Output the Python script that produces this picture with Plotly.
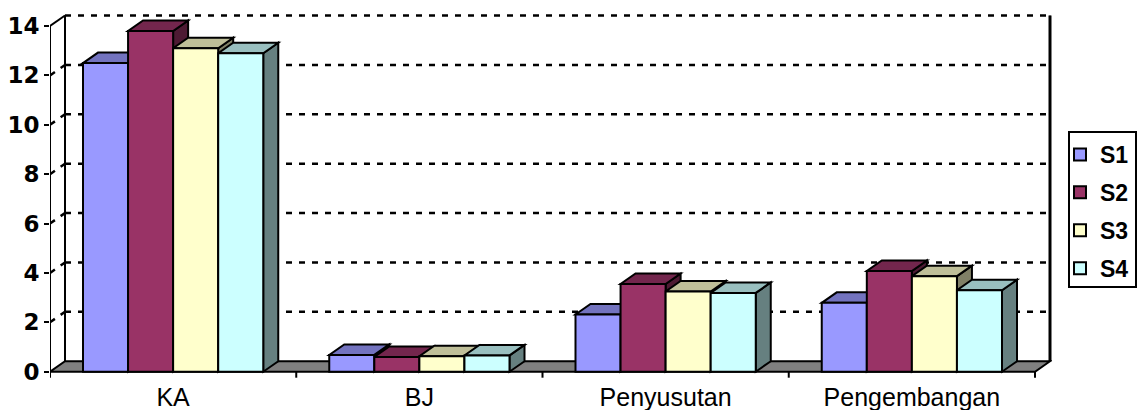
import plotly.graph_objects as go

# ---- data -------------------------------------------------------------
categories = ["KA", "BJ", "Penyusutan", "Pengembangan"]
series_names = ["S1", "S2", "S3", "S4"]
s1 = [12.5, 0.68, 2.32, 2.79]
s2 = [13.8, 0.60, 3.55, 4.08]
s3 = [13.1, 0.63, 3.25, 3.87]
s4 = [12.9, 0.66, 3.19, 3.30]
y_ticks = [0, 2, 4, 6, 8, 10, 12, 14]

series_values = [s1, s2, s3, s4]

# ---- styling ----------------------------------------------------------
front_colors = ["#9999FF", "#993366", "#FFFFCC", "#CCFFFF"]
top_colors = ["#7373BF", "#73264D", "#BFBF99", "#99BFBF"]
side_colors = ["#4D4D80", "#4D1A33", "#808066", "#668080"]

W, H = 1137, 410
M_L, M_R, M_T, M_B = 50, 85, 12, 30
plot_w = W - M_L - M_R
plot_h = H - M_T - M_B

# axis scales (pixels per data unit) and where value 0 sits
px_per_x = 246.25
px_per_y = 24.69
zero_px = 371.7

n_cat = len(categories)
n_ser = len(series_values)
x_lo = -0.5
x_hi = x_lo + plot_w / px_per_x
y_lo = -((M_T + plot_h) - zero_px) / px_per_y
y_hi = y_lo + plot_h / px_per_y
y_top = y_ticks[-1]

# oblique depth of the pseudo-3D boxes, in data units
DX = 15 / px_per_x
DY = 10.5 / px_per_y

BARGAP = 0.268
bar_w = (1 - BARGAP) / n_ser

LINE = dict(color="black", width=2)
DASH = dict(color="black", width=2.5, dash="6px,7px")

shapes = []


def seg(x0, y0, x1, y1, line, layer="below"):
    shapes.append(dict(type="line", xref="x", yref="y", x0=x0, y0=y0,
                       x1=x1, y1=y1, line=line, layer=layer))


def poly(pts, fill, layer="below"):
    d = "M " + " L ".join(f"{px:.5f},{py:.5f}" for px, py in pts) + " Z"
    shapes.append(dict(type="path", xref="x", yref="y", path=d,
                       fillcolor=fill, line=LINE, layer=layer))


x_front_l = x_lo
x_front_r = x_lo + n_cat

# back-wall gridlines
for v in y_ticks[1:]:
    seg(x_front_l + DX, v + DY, x_front_r + DX, v + DY, DASH)
# side-wall gridlines
for v in y_ticks[1:-1]:
    seg(x_front_l, v, x_front_l + DX, v + DY, DASH)
seg(x_front_l, y_top, x_front_l + DX, y_top + DY, LINE)

# back-wall vertical edges
seg(x_front_l + DX, DY, x_front_l + DX, y_top + DY, LINE)
seg(x_front_r + DX, DY, x_front_r + DX, y_top + DY,
    dict(color="#808080", width=4))
seg(x_front_r + DX, DY, x_front_r + DX, y_top + DY, LINE)

# floor
poly([(x_front_l, 0), (x_front_r, 0), (x_front_r + DX, DY),
      (x_front_l + DX, DY)], "#808080")

# value axis line
seg(x_front_l, 0, x_front_l, y_top, LINE)
# category boundary ticks
for k in range(n_cat + 1):
    seg(x_front_l + k, 0, x_front_l + k, -6 / px_per_y, LINE)

# top and side faces of each column, left to right
for i in range(n_cat):
    for j in range(n_ser):
        v = series_values[j][i]
        xa = i - (1 - BARGAP) / 2 + j * bar_w
        xb = xa + bar_w
        poly([(xb, 0), (xb, v), (xb + DX, v + DY), (xb + DX, DY)],
             side_colors[j])
        poly([(xa, v), (xb, v), (xb + DX, v + DY), (xa + DX, v + DY)],
             top_colors[j])


def px_to_paper_x(px):
    return (px - M_L) / plot_w


def px_to_paper_y(py):
    return (M_T + plot_h - py) / plot_h


# legend frame
shapes.append(dict(type="rect", xref="paper", yref="paper",
                   x0=px_to_paper_x(1069), x1=px_to_paper_x(1136),
                   y0=px_to_paper_y(287), y1=px_to_paper_y(132),
                   line=dict(color="black", width=2),
                   fillcolor="white", layer="below"))

fig = go.Figure()
for j in range(n_ser):
    fig.add_trace(go.Bar(
        x=list(range(n_cat)), y=series_values[j], name=series_names[j],
        legendgroup=series_names[j],
        marker=dict(color=front_colors[j], line=dict(color="black", width=2)),
    ))

fig.update_layout(
    width=W, height=H,
    margin=dict(l=M_L, r=M_R, t=M_T, b=M_B, pad=0, autoexpand=False),
    paper_bgcolor="white", plot_bgcolor="rgba(0,0,0,0)",
    barmode="group", bargap=BARGAP, bargroupgap=0,
    shapes=shapes,
    showlegend=True,
    legend=dict(
        x=px_to_paper_x(1060), y=px_to_paper_y(133),
        xanchor="left", yanchor="top",
        bgcolor="rgba(0,0,0,0)", borderwidth=0,
        tracegroupgap=5, itemwidth=30,
        font=dict(family="Liberation Sans, Arial", size=23, color="black",
                  weight="bold"),
    ),
    xaxis=dict(
        range=[x_lo, x_hi], tickvals=list(range(n_cat)), ticktext=categories,
        showgrid=False, zeroline=False, showline=False, ticks="",
        automargin=False,
        tickfont=dict(family="Liberation Sans, Arial", size=25, color="black"),
        fixedrange=True,
    ),
    yaxis=dict(
        range=[y_lo, y_hi], tickvals=y_ticks,
        ticks="outside", ticklen=5, tickwidth=2, tickcolor="black",
        showgrid=False, zeroline=False, showline=False, automargin=False,
        tickfont=dict(family="DejaVu Sans", size=23, color="black",
                      weight="bold"),
        fixedrange=True,
    ),
)

fig.write_html("out.html")
